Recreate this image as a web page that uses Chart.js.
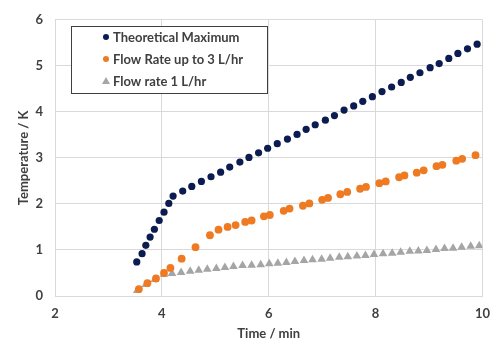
<!DOCTYPE html>
<html lang="en">
<head>
    <meta charset="UTF-8">
    <title>Temperature vs Time</title>
    <script src="https://cdn.jsdelivr.net/npm/chart.js"></script>
    <style>
        body { margin: 0; background: #fff; }
        #wrap { width: 500px; height: 350px; }
    </style>
</head>
<body>
    <div id="wrap"><canvas id="chart" width="500" height="350"></canvas></div>

    <script>
        // Theoretical maximum
        const maxTime = [3.53, 3.63, 3.70, 3.78, 3.86, 3.95, 4.04, 4.13, 4.21, 4.39, 4.56, 4.74, 4.92, 5.10, 5.27, 5.46, 5.63, 5.81, 5.98, 6.16, 6.35, 6.53, 6.70, 6.87, 7.06, 7.23, 7.41, 7.59, 7.76, 7.94, 8.12, 8.30, 8.48, 8.65, 8.83, 9.02, 9.19, 9.37, 9.54, 9.72, 9.90];
        const maxTemp = [0.74, 0.92, 1.10, 1.28, 1.45, 1.64, 1.82, 2.01, 2.17, 2.28, 2.38, 2.49, 2.59, 2.69, 2.80, 2.91, 3.01, 3.11, 3.21, 3.31, 3.41, 3.51, 3.62, 3.72, 3.82, 3.92, 4.04, 4.13, 4.23, 4.33, 4.44, 4.54, 4.64, 4.75, 4.85, 4.96, 5.05, 5.16, 5.27, 5.37, 5.47];

        // Flow rate up to 3 L/hr
        const flow3Time = [3.57, 3.73, 3.89, 4.04, 4.16, 4.37, 4.63, 4.90, 5.06, 5.23, 5.38, 5.56, 5.68, 5.91, 6.02, 6.28, 6.39, 6.64, 6.76, 7.00, 7.11, 7.34, 7.47, 7.71, 7.82, 8.07, 8.19, 8.44, 8.54, 8.77, 8.90, 9.14, 9.25, 9.51, 9.62, 9.87];
        const flow3Temp = [0.15, 0.28, 0.38, 0.50, 0.61, 0.81, 1.06, 1.32, 1.44, 1.50, 1.54, 1.61, 1.64, 1.73, 1.76, 1.85, 1.90, 1.96, 2.01, 2.09, 2.13, 2.21, 2.26, 2.33, 2.37, 2.45, 2.49, 2.58, 2.62, 2.68, 2.73, 2.82, 2.85, 2.94, 2.98, 3.06];

        // Flow rate 1 L/hr
        const flow1Time = [3.54, 3.70, 3.87, 4.04, 4.19, 4.36, 4.53, 4.69, 4.85, 5.02, 5.18, 5.34, 5.51, 5.68, 5.85, 6.01, 6.17, 6.33, 6.49, 6.66, 6.82, 6.99, 7.15, 7.32, 7.48, 7.65, 7.81, 7.97, 8.14, 8.31, 8.47, 8.64, 8.80, 8.96, 9.13, 9.29, 9.45, 9.61, 9.78, 9.94];
        const flow1Temp = [0.12, 0.25, 0.36, 0.47, 0.49, 0.51, 0.54, 0.56, 0.58, 0.60, 0.62, 0.64, 0.66, 0.67, 0.68, 0.70, 0.71, 0.73, 0.75, 0.77, 0.79, 0.80, 0.82, 0.84, 0.85, 0.87, 0.88, 0.90, 0.92, 0.93, 0.95, 0.97, 0.98, 0.99, 1.01, 1.03, 1.04, 1.06, 1.08, 1.09];

        const seriesLabels = ['Theoretical Maximum', 'Flow Rate up to 3 L/hr', 'Flow rate 1 L/hr'];

        const FONT = "'Lato', 'Open Sans', sans-serif";
        const TEXT = '#404040';
        const GRID = '#d9d9d9';

        function toPoints(xs, ys) {
            return xs.map((x, i) => ({ x: x, y: ys[i] }));
        }

        // legend drawn inside the plot area, with a box round it
        const boxLegend = {
            id: 'boxLegend',
            afterDraw(chart) {
                const ctx = chart.ctx;
                const left = 71, top = 26, w = 196, h = 67;
                ctx.save();
                ctx.fillStyle = '#fff';
                ctx.fillRect(left, top, w, h);
                ctx.strokeStyle = '#404040';
                ctx.lineWidth = 1;
                ctx.strokeRect(left + 0.5, top + 0.5, w, h);
                ctx.font = 'bold 13px ' + FONT;
                ctx.textBaseline = 'middle';
                chart.data.datasets.forEach((ds, i) => {
                    const y = top + 11 + i * 22;
                    ctx.fillStyle = ds.backgroundColor;
                    ctx.beginPath();
                    if (ds.pointStyle === 'triangle') {
                        ctx.moveTo(106, y - 4);
                        ctx.lineTo(110, y + 3);
                        ctx.lineTo(102, y + 3);
                        ctx.closePath();
                    } else {
                        ctx.arc(106, y, 3, 0, Math.PI * 2);
                    }
                    ctx.fill();
                    ctx.fillStyle = TEXT;
                    ctx.fillText(ds.label, 113, y + 1);
                });
                ctx.restore();
            }
        };

        new Chart(document.getElementById('chart'), {
            type: 'scatter',
            data: {
                datasets: [
                    {
                        label: seriesLabels[0],
                        data: toPoints(maxTime, maxTemp),
                        pointStyle: 'circle',
                        pointRadius: 3.6,
                        borderWidth: 0,
                        backgroundColor: '#0c1b50',
                        borderColor: '#0c1b50'
                    },
                    {
                        label: seriesLabels[1],
                        data: toPoints(flow3Time, flow3Temp),
                        pointStyle: 'circle',
                        pointRadius: 3.9,
                        borderWidth: 0,
                        backgroundColor: '#ee7a22',
                        borderColor: '#ee7a22'
                    },
                    {
                        label: seriesLabels[2],
                        data: toPoints(flow1Time, flow1Temp),
                        pointStyle: 'triangle',
                        pointRadius: 5,
                        borderWidth: 0,
                        backgroundColor: '#a5a5a5',
                        borderColor: '#a5a5a5'
                    }
                ]
            },
            options: {
                responsive: false,
                animation: false,
                layout: { padding: { left: 0, right: 17, top: 12, bottom: 0 } },
                plugins: {
                    legend: { display: false },
                    tooltip: { enabled: false }
                },
                scales: {
                    x: {
                        type: 'linear',
                        min: 2,
                        max: 10,
                        afterFit: (s) => { s.height = 54; },
                        ticks: {
                            stepSize: 2,
                            padding: 10,
                            color: TEXT,
                            font: { family: FONT, size: 13, weight: 'bold' }
                        },
                        grid: { color: GRID, lineWidth: 1, drawTicks: false },
                        border: { color: GRID },
                        title: {
                            display: true,
                            text: 'Time / min',
                            color: TEXT,
                            font: { family: FONT, size: 13, weight: 'bold' },
                            padding: { top: 8, bottom: 8 }
                        }
                    },
                    y: {
                        min: 0,
                        max: 6,
                        afterFit: (s) => { s.width = 55; },
                        ticks: {
                            stepSize: 1,
                            padding: 12,
                            color: TEXT,
                            font: { family: FONT, size: 13, weight: 'bold' }
                        },
                        grid: { color: GRID, lineWidth: 1, drawTicks: false },
                        border: { color: GRID },
                        title: {
                            display: true,
                            text: 'Temperature / K',
                            color: TEXT,
                            font: { family: FONT, size: 13, weight: 'bold' },
                            padding: { top: 16, bottom: 16 }
                        }
                    }
                }
            },
            plugins: [boxLegend]
        });
    </script>
</body>
</html>
